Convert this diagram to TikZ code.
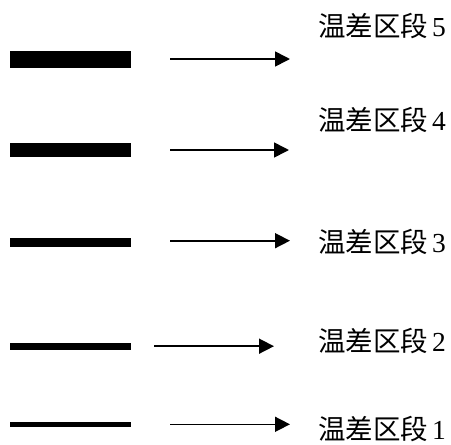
\documentclass[tikz,border=0pt]{standalone}
\usepackage{fontspec}
\setmainfont{Liberation Serif}
\newfontfamily\cjk{Noto Sans CJK SC}
\usetikzlibrary{arrows.meta}
\tikzset{
  barbox/.style={rectangle, fill=black, inner sep=0pt, minimum width=121pt},
  arr/.style={-{Triangle[length=15pt,width=15pt]}, line width=1.6pt},
  lbl/.style={anchor=west, inner sep=0pt, font=\fontsize{27.5pt}{27.5pt}\selectfont}
}
\newcommand{\seglabel}[1]{{\cjk 温差区段}\hspace{4pt}#1}
\begin{document}
\begin{tikzpicture}[x=1pt,y=-1pt]
\useasboundingbox (0,0) rectangle (451,445);
% bars
\node[barbox, minimum height=16.7pt] (b5) at (70.5,59.4) {};
\node[barbox, minimum height=13.3pt] (b4) at (70.5,150) {};
\node[barbox, minimum height=9pt] (b3) at (70.5,242.2) {};
\node[barbox, minimum height=7.3pt] (b2) at (70.5,346.4) {};
\node[barbox, minimum height=5.6pt] (b1) at (70.5,424.5) {};
% arrow ends
\coordinate (s5) at (170,59); \coordinate (e5) at (290,59);
\coordinate (s4) at (170,150); \coordinate (e4) at (289,150);
\coordinate (s3) at (170,240.7); \coordinate (e3) at (290,240.7);
\coordinate (s2) at (154,346.2); \coordinate (e2) at (274,346.2);
\coordinate (s1) at (170,424.3); \coordinate (e1) at (290,424.3);
\foreach \i in {1,...,5} {\draw[arr] (s\i) -- (e\i);}
% labels
\node[lbl] (l5) at (318,26.5) {\seglabel{5}};
\node[lbl] (l4) at (318,120.5) {\seglabel{4}};
\node[lbl] (l3) at (318,242.5) {\seglabel{3}};
\node[lbl] (l2) at (318,341.5) {\seglabel{2}};
\node[lbl] (l1) at (318,429.5) {\seglabel{1}};
\end{tikzpicture}
\end{document}
